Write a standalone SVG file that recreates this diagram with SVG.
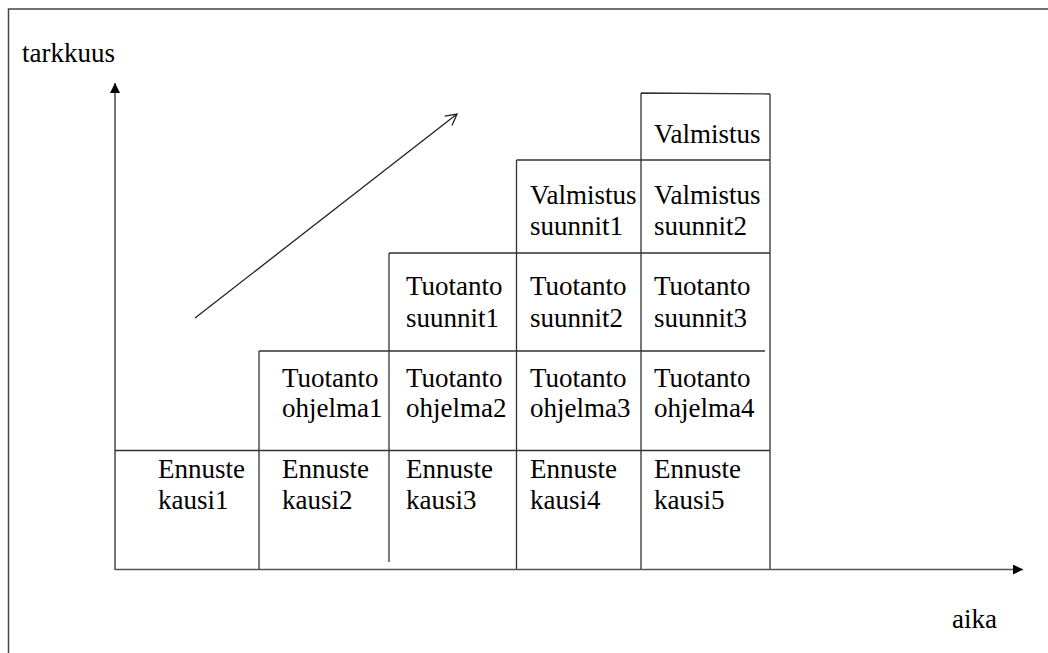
<svg xmlns="http://www.w3.org/2000/svg" width="1048" height="653" viewBox="0 0 1048 653">
<style>
text{font-family:"Liberation Serif","Times New Roman",serif;font-size:27px;fill:#000}
.g{stroke:#333;stroke-width:1.3;fill:none}
.ax{stroke:#555;stroke-width:1.6;fill:none}
</style>
<defs>
<marker id="fh" markerWidth="10" markerHeight="10" refX="10" refY="5" orient="auto" markerUnits="userSpaceOnUse"><path d="M0,0 L10,5 L0,10 Z" fill="#000"/></marker>
<marker id="oh" markerWidth="14" markerHeight="14" refX="12" refY="7" orient="auto" markerUnits="userSpaceOnUse"><path d="M1,1 L12,7 L1,13" fill="none" stroke="#222" stroke-width="1.3"/></marker>
</defs>
<rect width="1048" height="653" fill="#fff"/>
<path d="M8.5 653 V9 H1048" fill="none" stroke="#444" stroke-width="1.5"/>
<g id="axes">
<line class="ax" x1="115" y1="570" x2="115" y2="83" marker-end="url(#fh)"/>
<line class="ax" x1="115" y1="569.5" x2="1023" y2="569.5" marker-end="url(#fh)"/>
<text x="22" y="62">tarkkuus</text>
<text x="952" y="628">aika</text>
</g>
<g id="connectors">
<line x1="195" y1="318" x2="457" y2="114" stroke="#222" stroke-width="1.3" marker-end="url(#oh)"/>
</g>
<g id="grid">
<path class="g" d="M259 351 V569 M389 253 V562 M516.5 160 V569 M641 93 V569 M770 94 V569 M115 450.5 H770 M259 351 H765 M389 253 H770 M516.5 160 H770 M641 93 L770 94"/>
</g>
<g id="col1"><text x="158" y="478">Ennuste</text><text x="158" y="509">kausi1</text></g>
<g id="col2">
<text x="282" y="387">Tuotanto</text><text x="282" y="417">ohjelma1</text>
<text x="282" y="478">Ennuste</text><text x="282" y="509">kausi2</text>
</g>
<g id="col3">
<text x="406" y="295">Tuotanto</text><text x="406" y="327">suunnit1</text>
<text x="406" y="387">Tuotanto</text><text x="406" y="417">ohjelma2</text>
<text x="406" y="478">Ennuste</text><text x="406" y="509">kausi3</text>
</g>
<g id="col4">
<text x="530" y="204">Valmistus</text><text x="530" y="235">suunnit1</text>
<text x="530" y="295">Tuotanto</text><text x="530" y="327">suunnit2</text>
<text x="530" y="387">Tuotanto</text><text x="530" y="417">ohjelma3</text>
<text x="530" y="478">Ennuste</text><text x="530" y="509">kausi4</text>
</g>
<g id="col5">
<text x="654" y="143">Valmistus</text>
<text x="654" y="204">Valmistus</text><text x="654" y="235">suunnit2</text>
<text x="654" y="295">Tuotanto</text><text x="654" y="327">suunnit3</text>
<text x="654" y="387">Tuotanto</text><text x="654" y="417">ohjelma4</text>
<text x="654" y="478">Ennuste</text><text x="654" y="509">kausi5</text>
</g>
</svg>
